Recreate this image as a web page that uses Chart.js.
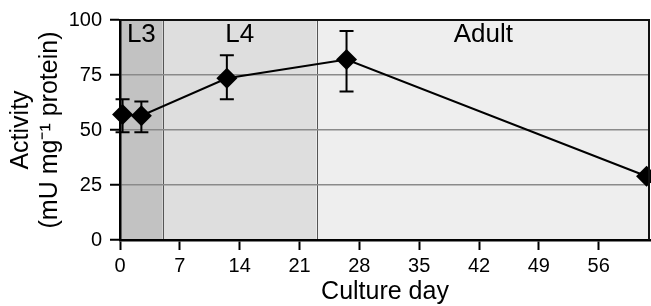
<!DOCTYPE html>
<html>
<head>
<meta charset="utf-8">
<script src="https://cdn.jsdelivr.net/npm/chart.js@4/dist/chart.umd.min.js"></script>
<style>
  html, body { margin: 0; padding: 0; background: #fff; overflow: hidden; }
  #wrap { position: relative; width: 651px; height: 306px; }
  #chart { display: block; }
</style>
</head>
<body>
<div id="wrap"><canvas id="chart"></canvas></div>
<script>
// ── Data ──────────────────────────────────────────────────────────────────────
const days     = [0.3, 2.5, 12.5, 26.5, 61.6];
const activity = [57, 56.5, 73.5, 82, 29];
const upper    = [64, 63, 84, 95, 29];
const lower    = [49, 49, 64, 67.5, 29];

const stageNames = ['L3', 'L4', 'Adult'];
const stageStart = [0, 5, 23];
const stageEnd   = [5, 23, 62];

const xTicks = [0, 7, 14, 21, 28, 35, 42, 49, 56];
const yTicks = [0, 25, 50, 75, 100];

const FONT = "'Liberation Sans', Arial, Helvetica, sans-serif";
const stageFill = ['#c2c2c2', '#dedede', '#eeeeee'];

// ── Plugins ───────────────────────────────────────────────────────────────────
const stagesPlugin = {
  id: 'stages',
  beforeDraw(chart) {
    const { ctx, chartArea: a, scales: { x } } = chart;
    ctx.save();
    stageNames.forEach((name, i) => {
      const x0 = x.getPixelForValue(stageStart[i]);
      const x1 = Math.min(x.getPixelForValue(stageEnd[i]), a.right);
      ctx.fillStyle = stageFill[i];
      ctx.fillRect(x0, a.top, x1 - x0, a.bottom - a.top);
    });
    ctx.strokeStyle = '#555';
    ctx.lineWidth = 1;
    stageStart.slice(1).forEach(d => {
      const px = Math.round(x.getPixelForValue(d)) + 0.5;
      ctx.beginPath(); ctx.moveTo(px, a.top); ctx.lineTo(px, a.bottom); ctx.stroke();
    });
    ctx.fillStyle = '#000';
    ctx.font = `26px ${FONT}`;
    ctx.textAlign = 'center';
    ctx.textBaseline = 'middle';
    stageNames.forEach((name, i) => {
      const x0 = x.getPixelForValue(stageStart[i]);
      const x1 = Math.min(x.getPixelForValue(stageEnd[i]), a.right);
      ctx.fillText(name, (x0 + x1) / 2, a.top + 15);
    });
    ctx.restore();
  },
  beforeDatasetsDraw(chart) {
    // error bars
    const { ctx, scales: { x, y } } = chart;
    ctx.save();
    ctx.strokeStyle = '#000';
    ctx.lineWidth = 2;
    days.forEach((d, i) => {
      if (upper[i] === lower[i]) return;
      const px = x.getPixelForValue(d);
      const yt = y.getPixelForValue(upper[i]);
      const yb = y.getPixelForValue(lower[i]);
      ctx.beginPath();
      ctx.moveTo(px, yt); ctx.lineTo(px, yb);
      ctx.moveTo(px - 7, yt); ctx.lineTo(px + 7, yt);
      ctx.moveTo(px - 7, yb); ctx.lineTo(px + 7, yb);
      ctx.stroke();
    });
    ctx.restore();
  },
  afterDraw(chart) {
    const { ctx, chartArea: a } = chart;
    ctx.save();
    ctx.strokeStyle = '#111';
    ctx.lineWidth = 2;
    ctx.beginPath();
    ctx.moveTo(a.left, a.top); ctx.lineTo(a.right - 1, a.top); ctx.lineTo(a.right - 1, a.bottom);
    ctx.stroke();
    ctx.restore();
  }
};

// ── Chart ─────────────────────────────────────────────────────────────────────
new Chart(document.getElementById('chart'), {
  type: 'line',
  data: {
    datasets: [{
      data: days.map((d, i) => ({ x: d, y: activity[i] })),
      borderColor: '#000', borderWidth: 2,
      pointStyle: 'rectRot', pointRadius: 10.5,
      pointBackgroundColor: '#000', pointBorderColor: '#000', pointBorderWidth: 0,
      tension: 0, fill: false,
      clip: { left: false, top: false, right: 1, bottom: false }
    }]
  },
  options: {
    responsive: true, maintainAspectRatio: false, animation: false,
    layout: { autoPadding: false, padding: { left: 0, right: 1, top: 19, bottom: 0 } },
    plugins: { legend: { display: false }, tooltip: { enabled: false } },
    scales: {
      x: {
        type: 'linear', min: 0, max: 62,
        afterBuildTicks: s => { s.ticks = xTicks.map(v => ({ value: v })); },
        afterFit: s => { s.height = 66; s.paddingLeft = 0; s.paddingRight = 0; },
        grid: { drawOnChartArea: false, tickLength: 10, tickColor: '#000', tickWidth: 2 },
        border: { color: '#000', width: 2.5 },
        ticks: { color: '#000', padding: 4, font: { family: FONT, size: 20 } },
        title: { display: true, text: 'Culture day', color: '#000', padding: { top: 0, bottom: 1 },
                 font: { family: FONT, size: 25, lineHeight: 1.0 } }
      },
      y: {
        min: 0, max: 100,
        afterBuildTicks: s => { s.ticks = yTicks.map(v => ({ value: v })); },
        afterFit: s => { s.width = 120; },
        grid: { color: ctx => (ctx.tick && (ctx.tick.value === 0 || ctx.tick.value === 100)) ? 'rgba(0,0,0,0)' : '#8a8a8a',
                lineWidth: 1.5, tickLength: 10, tickColor: '#000', tickWidth: 2 },
        border: { color: '#000', width: 2.5 },
        ticks: { color: '#000', padding: 8, font: { family: FONT, size: 20 } },
        title: { display: true, text: ['Activity', '(mU mg\u207B\u00B9 protein)'], color: '#000',
                 padding: { top: 7, bottom: 0 }, font: { family: FONT, size: 25, lineHeight: 1.16 } }
      }
    }
  },
  plugins: [stagesPlugin]
});
</script>
</body>
</html>
